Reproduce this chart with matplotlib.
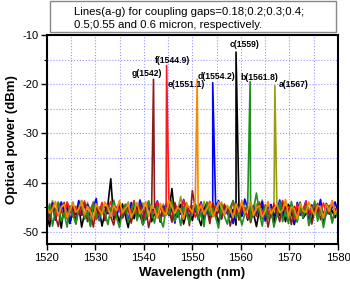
import numpy as np
import matplotlib
matplotlib.use('Agg')
import matplotlib.pyplot as plt
from matplotlib.patches import Rectangle
from matplotlib.ticker import MultipleLocator

plt.rcParams['font.family'] = ['Liberation Sans', 'DejaVu Sans']
plt.rcParams['axes.unicode_minus'] = False

# wavelength grid for the noise floor (nm)
wl = np.linspace(1520, 1580, 101)

# noise floors (dBm), one list per line
noise_a = [-44.8,-45.9,-43.6,-46.2,-44.1,-45.5,-47.0,-44.3,-45.8,-43.9,
           -46.4,-44.7,-45.2,-47.3,-44.0,-45.6,-43.8,-46.1,-44.9,-45.3,
           -46.8,-44.2,-45.7,-43.5,-46.0,-44.6,-47.1,-45.0,-43.9,-46.3,
           -44.5,-45.8,-46.9,-44.1,-45.4,-43.7,-46.6,-44.8,-45.1,-47.2,
           -44.3,-45.9,-43.6,-46.2,-44.7,-45.5,-42.8,-46.5,-44.0,-45.7,
           -46.1,-44.4,-45.2,-47.0,-43.8,-45.6,-44.9,-46.7,-44.2,-45.3,
           -43.9,-46.4,-44.6,-45.8,-47.4,-44.1,-45.0,-46.2,-43.7,-45.5,
           -44.8,-46.9,-44.3,-45.7,-43.5,-46.0,-44.5,-45.9,-47.1,-44.0,
           -45.4,-46.6,-43.8,-45.1,-44.7,-46.3,-45.6,-43.9,-46.8,-44.4,
           -45.2,-47.0,-44.1,-45.8,-43.6,-46.5,-44.9,-45.3,-46.1,-44.2,
           -45.0]
noise_c = [-46.5,-48.9,-44.2,-47.6,-45.1,-49.2,-44.8,-46.9,-48.3,-45.4,
           -47.8,-44.6,-49.0,-46.2,-45.7,-48.6,-44.9,-47.2,-45.3,-48.8,
           -46.0,-44.5,-39.2,-47.5,-45.9,-48.1,-44.3,-46.7,-49.1,-45.0,
           -47.3,-44.7,-46.4,-48.5,-45.6,-44.1,-47.9,-46.3,-45.2,-48.0,
           -44.8,-46.6,-45.5,-41.2,-47.1,-45.8,-44.4,-48.4,-46.1,-45.0,
           -47.7,-44.6,-46.9,-48.7,-45.3,-44.2,-47.4,-46.0,-45.7,-48.2,
           -44.9,-46.5,-45.2,-47.0,-45.4,-48.6,-44.5,-46.8,-45.1,-47.6,
           -44.3,-46.2,-48.9,-45.6,-44.7,-47.3,-46.4,-45.0,-48.3,-44.8,
           -46.7,-45.2,-47.9,-44.4,-46.1,-48.5,-45.5,-44.1,-47.2,-46.3,
           -45.8,-48.0,-44.6,-46.9,-45.3,-47.5,-44.2,-46.0,-45.7,-47.1,
           -45.4]
noise_d = [-45.3,-46.8,-44.1,-47.4,-45.6,-43.9,-46.2,-44.7,-48.1,-45.0,
           -46.5,-43.6,-45.8,-47.2,-44.4,-46.0,-45.1,-43.2,-47.7,-45.5,
           -44.8,-46.3,-45.9,-43.8,-47.0,-44.5,-46.6,-45.2,-48.0,-44.0,
           -45.7,-46.9,-43.5,-45.4,-47.5,-44.6,-46.1,-45.0,-43.7,-47.3,
           -45.8,-44.3,-46.7,-45.1,-48.2,-44.9,-46.4,-43.4,-45.6,-47.1,
           -44.7,-46.0,-45.3,-43.9,-47.6,-45.5,-44.2,-46.8,-45.0,-43.6,
           -47.4,-44.8,-46.3,-45.7,-48.3,-44.1,-45.9,-46.5,-43.3,-45.2,
           -47.0,-44.6,-46.2,-45.4,-43.8,-47.8,-45.1,-44.4,-46.7,-45.8,
           -43.5,-47.2,-44.9,-46.1,-45.3,-48.1,-44.0,-46.6,-45.6,-43.7,
           -47.5,-44.5,-46.0,-45.9,-43.4,-48.4,-44.7,-46.4,-45.0,-43.9,
           -46.2]
noise_f = [-44.6,-46.1,-45.0,-47.3,-44.2,-45.8,-46.6,-43.9,-45.4,-47.0,
           -44.8,-46.3,-45.1,-43.7,-46.9,-45.5,-44.3,-47.5,-45.9,-44.0,
           -46.4,-45.2,-43.8,-46.7,-44.9,-45.6,-47.2,-44.4,-46.0,-45.3,
           -43.6,-46.5,-44.7,-45.9,-47.1,-44.1,-45.7,-46.2,-43.9,-45.0,
           -46.8,-44.5,-45.4,-47.4,-44.0,-46.1,-45.8,-43.5,-46.6,-45.2,
           -44.7,-47.0,-45.5,-44.2,-46.3,-45.0,-43.8,-46.9,-44.6,-45.7,
           -47.3,-44.3,-45.9,-46.0,-43.7,-45.6,-46.7,-44.8,-45.1,-47.2,
           -44.0,-46.4,-45.3,-43.9,-46.8,-44.5,-45.8,-47.1,-44.2,-46.2,
           -45.0,-43.6,-46.5,-44.9,-45.4,-47.5,-44.4,-46.1,-45.7,-43.8,
           -46.6,-45.1,-44.6,-47.0,-45.5,-44.1,-46.3,-45.9,-43.7,-46.0,
           -45.2]
noise_g = [-45.9,-47.6,-44.5,-46.8,-48.9,-45.2,-44.0,-47.3,-46.1,-44.7,
           -48.4,-45.5,-46.6,-44.2,-47.9,-45.8,-49.0,-44.9,-46.3,-45.1,
           -47.7,-44.4,-46.9,-48.6,-45.3,-44.1,-47.1,-46.0,-44.8,-48.2,
           -45.6,-46.7,-44.3,-47.5,-45.0,-49.1,-46.4,-44.6,-45.7,-47.8,
           -44.9,-46.2,-45.4,-48.0,-44.2,-47.0,-45.9,-46.5,-44.5,-48.7,
           -41.6,-45.1,-47.4,-44.8,-46.6,-45.3,-48.3,-44.0,-46.9,-45.7,
           -47.2,-44.6,-45.5,-48.8,-46.1,-44.3,-47.6,-45.0,-46.4,-44.9,
           -48.1,-45.6,-46.8,-44.4,-47.3,-45.2,-49.0,-46.0,-44.7,-45.8,
           -47.9,-44.1,-46.3,-45.4,-48.5,-44.8,-46.7,-45.1,-47.0,-44.5,
           -46.2,-48.4,-45.7,-44.2,-47.5,-45.9,-46.5,-44.6,-48.0,-45.3,
           -46.0]
noise_b = [-47.2,-44.3,-48.8,-45.6,-43.9,-47.9,-46.1,-49.0,-44.7,-46.5,
           -48.3,-45.0,-43.6,-47.4,-45.8,-48.9,-44.2,-46.7,-47.6,-44.9,
           -46.0,-48.5,-45.3,-43.8,-47.1,-49.1,-45.7,-44.4,-48.0,-46.3,
           -44.0,-47.7,-45.5,-48.6,-46.9,-43.7,-45.9,-48.2,-44.6,-47.3,
           -49.0,-45.1,-46.4,-43.5,-47.8,-45.4,-48.7,-44.8,-46.2,-48.1,
           -45.6,-44.1,-47.5,-46.0,-48.9,-43.9,-46.6,-45.2,-47.0,-49.2,
           -44.5,-46.8,-48.4,-45.0,-43.6,-47.2,-45.8,-48.6,-46.3,-44.3,
           -47.6,-45.5,-42.1,-46.1,-48.8,-44.7,-47.4,-45.3,-49.0,-46.7,
           -44.0,-47.9,-45.7,-48.3,-43.8,-46.5,-48.0,-45.1,-47.1,-44.6,
           -48.7,-46.2,-43.7,-47.8,-45.4,-49.1,-46.0,-44.9,-48.2,-45.6,
           -47.3]
noise_e = [-44.9,-46.2,-45.3,-43.8,-46.7,-45.0,-44.4,-47.1,-45.6,-44.1,
           -46.0,-45.4,-43.7,-46.5,-44.8,-45.9,-47.3,-44.3,-45.5,-46.4,
           -43.9,-45.1,-46.8,-44.6,-45.7,-43.6,-46.1,-45.2,-44.5,-47.0,
           -45.8,-44.0,-46.3,-45.5,-43.8,-46.9,-44.7,-45.3,-47.2,-44.2,
           -45.9,-46.6,-43.5,-45.0,-46.2,-44.9,-45.6,-47.4,-44.4,-45.1,
           -46.0,-43.7,-45.8,-44.6,-46.4,-45.3,-44.1,-46.9,-45.7,-43.9,
           -45.0,-46.5,-44.8,-45.4,-47.1,-44.3,-45.9,-43.6,-46.2,-45.5,
           -44.0,-46.7,-45.1,-44.7,-47.0,-45.8,-43.8,-46.3,-45.2,-44.5,
           -46.1,-45.6,-43.4,-46.8,-44.9,-45.3,-47.3,-44.2,-45.7,-46.0,
           -43.9,-45.4,-46.6,-44.6,-45.0,-47.2,-44.4,-45.8,-43.6,-46.4,
           -45.1]

# peaks: label, peak wavelength (nm), peak power (dBm)
peak_names = ['a', 'b', 'c', 'd', 'e', 'f', 'g']
peak_lbl = ['1567', '1561.8', '1559', '1554.2', '1551.1', '1544.9', '1542']
peak_wl = [1567.0, 1561.9, 1559.0, 1554.2, 1551.0, 1544.7, 1542.0]
peak_db = [-20.3, -19.5, -13.5, -19.7, -19.0, -16.2, -19.0]
noises = [noise_a, noise_b, noise_c, noise_d, noise_e, noise_f, noise_g]
colors = ['#9c9c14', '#1f8f1f', '#000000', '#0000ff', '#f58a00', '#ff1a1a', '#8b1c1c']

# where the labels sit (nm, dBm)
lbl_x = [1570.8, 1563.8, 1560.7, 1555.0, 1548.7, 1546.0, 1540.7]
lbl_y = [-20.0, -18.7, -12.0, -18.4, -20.0, -15.2, -17.8]

fig = plt.figure(figsize=(3.5, 2.82), dpi=100)
ax = fig.add_axes([0.1334, 0.1337, 0.8323, 0.7423])

order = [0, 2, 3, 5, 6, 1, 4]  # orange on top
for i in order:
    x = np.append(wl, peak_wl[i])
    y = np.append(np.array(noises[i]), peak_db[i])
    idx = np.argsort(x)
    ax.plot(x[idx], y[idx], color=colors[i], lw=1.2)

for i in range(7):
    ax.text(lbl_x[i], lbl_y[i], peak_names[i] + '(' + peak_lbl[i] + ')',
            fontsize=6.2, fontweight='bold', ha='center', va='center')

ax.set_xlim(1520, 1580)
ax.set_ylim(-52.5, -10)
ax.xaxis.set_major_locator(MultipleLocator(10))
ax.xaxis.set_minor_locator(MultipleLocator(5))
ax.yaxis.set_major_locator(MultipleLocator(10))
ax.yaxis.set_minor_locator(MultipleLocator(5))
ax.grid(True, which='both', color='#9a9aff', linestyle=':', lw=0.8)
ax.set_axisbelow(True)
ax.tick_params(which='major', direction='out', length=4, width=1, labelsize=8, pad=2)
ax.tick_params(which='minor', direction='out', length=2.5, width=0.8)
for s in ax.spines.values():
    s.set_linewidth(1.5)

ax.set_xlabel('Wavelength (nm)', fontsize=9.5, fontweight='bold', labelpad=3)
ax.set_ylabel('Optical power (dBm)', fontsize=9.5, fontweight='bold', labelpad=3)

# caption box above the axes
fig.patches.append(Rectangle((50 / 350, 1 - 32 / 282), 286 / 350, 31 / 282,
                             transform=fig.transFigure, facecolor='white',
                             edgecolor='#888888', lw=1.0))
fig.text(74 / 350, 1 - 12.3 / 282, 'Lines(a-g) for coupling gaps=0.18;0.2;0.3;0.4;',
         fontsize=8.2, ha='left', va='center')
fig.text(74 / 350, 1 - 24.5 / 282, '0.5;0.55 and 0.6 micron, respectively.',
         fontsize=8.2, ha='left', va='center')

fig.savefig('out.png', dpi=100)
